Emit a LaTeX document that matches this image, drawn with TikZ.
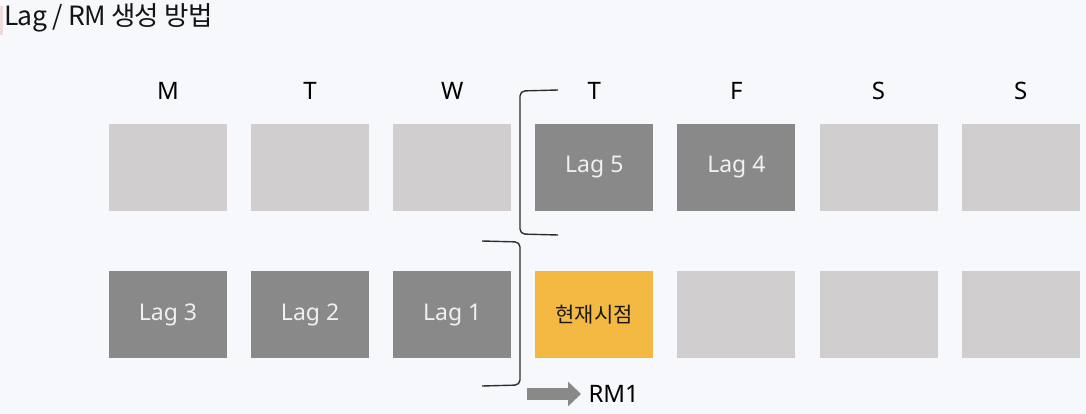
\documentclass[tikz,border=0pt]{standalone}
\usepackage{fontspec}
\setmainfont{Noto Sans}
\newfontfamily\krfont{Noto Sans CJK KR}
\newfontfamily\krtitle[LetterSpace=-2.5]{Noto Sans CJK KR}
\usepackage{xcolor}
\definecolor{pagebg}{HTML}{F7F8FC}
\definecolor{cellgray}{HTML}{D0CECE}
\definecolor{laggray}{HTML}{898989}
\definecolor{nowgold}{HTML}{F4B942}
\definecolor{brkgray}{HTML}{2E2E2E}
\definecolor{tagpink}{HTML}{EEDCDC}
\usetikzlibrary{arrows.meta,positioning}
\tikzset{
  cell/.style={minimum width=118pt, minimum height=87pt, inner sep=0pt,
               font=\fontsize{23}{26}\selectfont},
  cfree/.style={cell, fill=cellgray},
  clag/.style={cell, fill=laggray, text=white!94!black},
  cnow/.style={cell, fill=nowgold, text=black!90, font=\krfont\fontsize{21}{26}\selectfont},
  day/.style={font=\fontsize{24}{26}\selectfont, text height=18pt, text depth=0pt},
  brace/.style={draw=brkgray, line width=1.4pt, rounded corners=5pt},
  ar/.style={-{Triangle[length=13pt,width=24pt]}, draw=laggray, line width=11.5pt},
}

\begin{document}
\begin{tikzpicture}[x=1pt, y=-1pt, node distance=60pt and 23.7pt]
  \fill[pagebg] (0,0) rectangle (1086,414);
  \useasboundingbox (0,0) rectangle (1086,414);
  \fill[tagpink] (0,6) rectangle (2.5,35);
  \node[anchor=west, inner sep=1pt, font=\krtitle\fontsize{26.5}{30}\selectfont, text=black!92] (title) at (3,18)
    {Lag / RM 생성 방법};

  % first row
  \node[cfree] (m1) at (168,167.5) {};
  \node[cfree, right=of m1] (t1) {};
  \node[cfree, right=of t1] (w1) {};
  \node[clag, right=of w1] (h1) {Lag 5};
  \node[clag, right=of h1] (f1) {Lag 4};
  \node[cfree, right=of f1] (s1) {};
  \node[cfree, right=of s1] (u1) {};

  % second row
  \node[clag, below=of m1] (m2) {Lag 3};
  \node[clag, right=of m2] (t2) {Lag 2};
  \node[clag, right=of t2] (w2) {Lag 1};
  \node[cnow, right=of w2] (h2) {현재시점};
  \node[cfree, right=of h2] (f2) {};
  \node[cfree, right=of f2] (s2) {};
  \node[cfree, right=of s2] (u2) {};

  % days
  \node[day, above=21pt of m1] (dm) {M};
  \node[day, above=21pt of t1] (dt) {T};
  \node[day, above=21pt of w1] (dw) {W};
  \node[day, above=21pt of h1] (dh) {T};
  \node[day, above=21pt of f1] (df) {F};
  \node[day, above=21pt of s1] (ds) {S};
  \node[day, above=21pt of u1] (du) {S};

  % brackets
  \draw[brace] (558,90) -- (520,91) -- (520,234) -- (558,235);
  \draw[brace] (482,241) -- (520,242) -- (520,385) -- (482,386);

  % RM1
  \node[anchor=west, font=\fontsize{24}{26}\selectfont] (rm) at (585,394) {RM1};
  \coordinate (rmtail) at (527,394);
  \draw[ar, shorten >=4pt] (rmtail) -- (rm.west);
\end{tikzpicture}
\end{document}
